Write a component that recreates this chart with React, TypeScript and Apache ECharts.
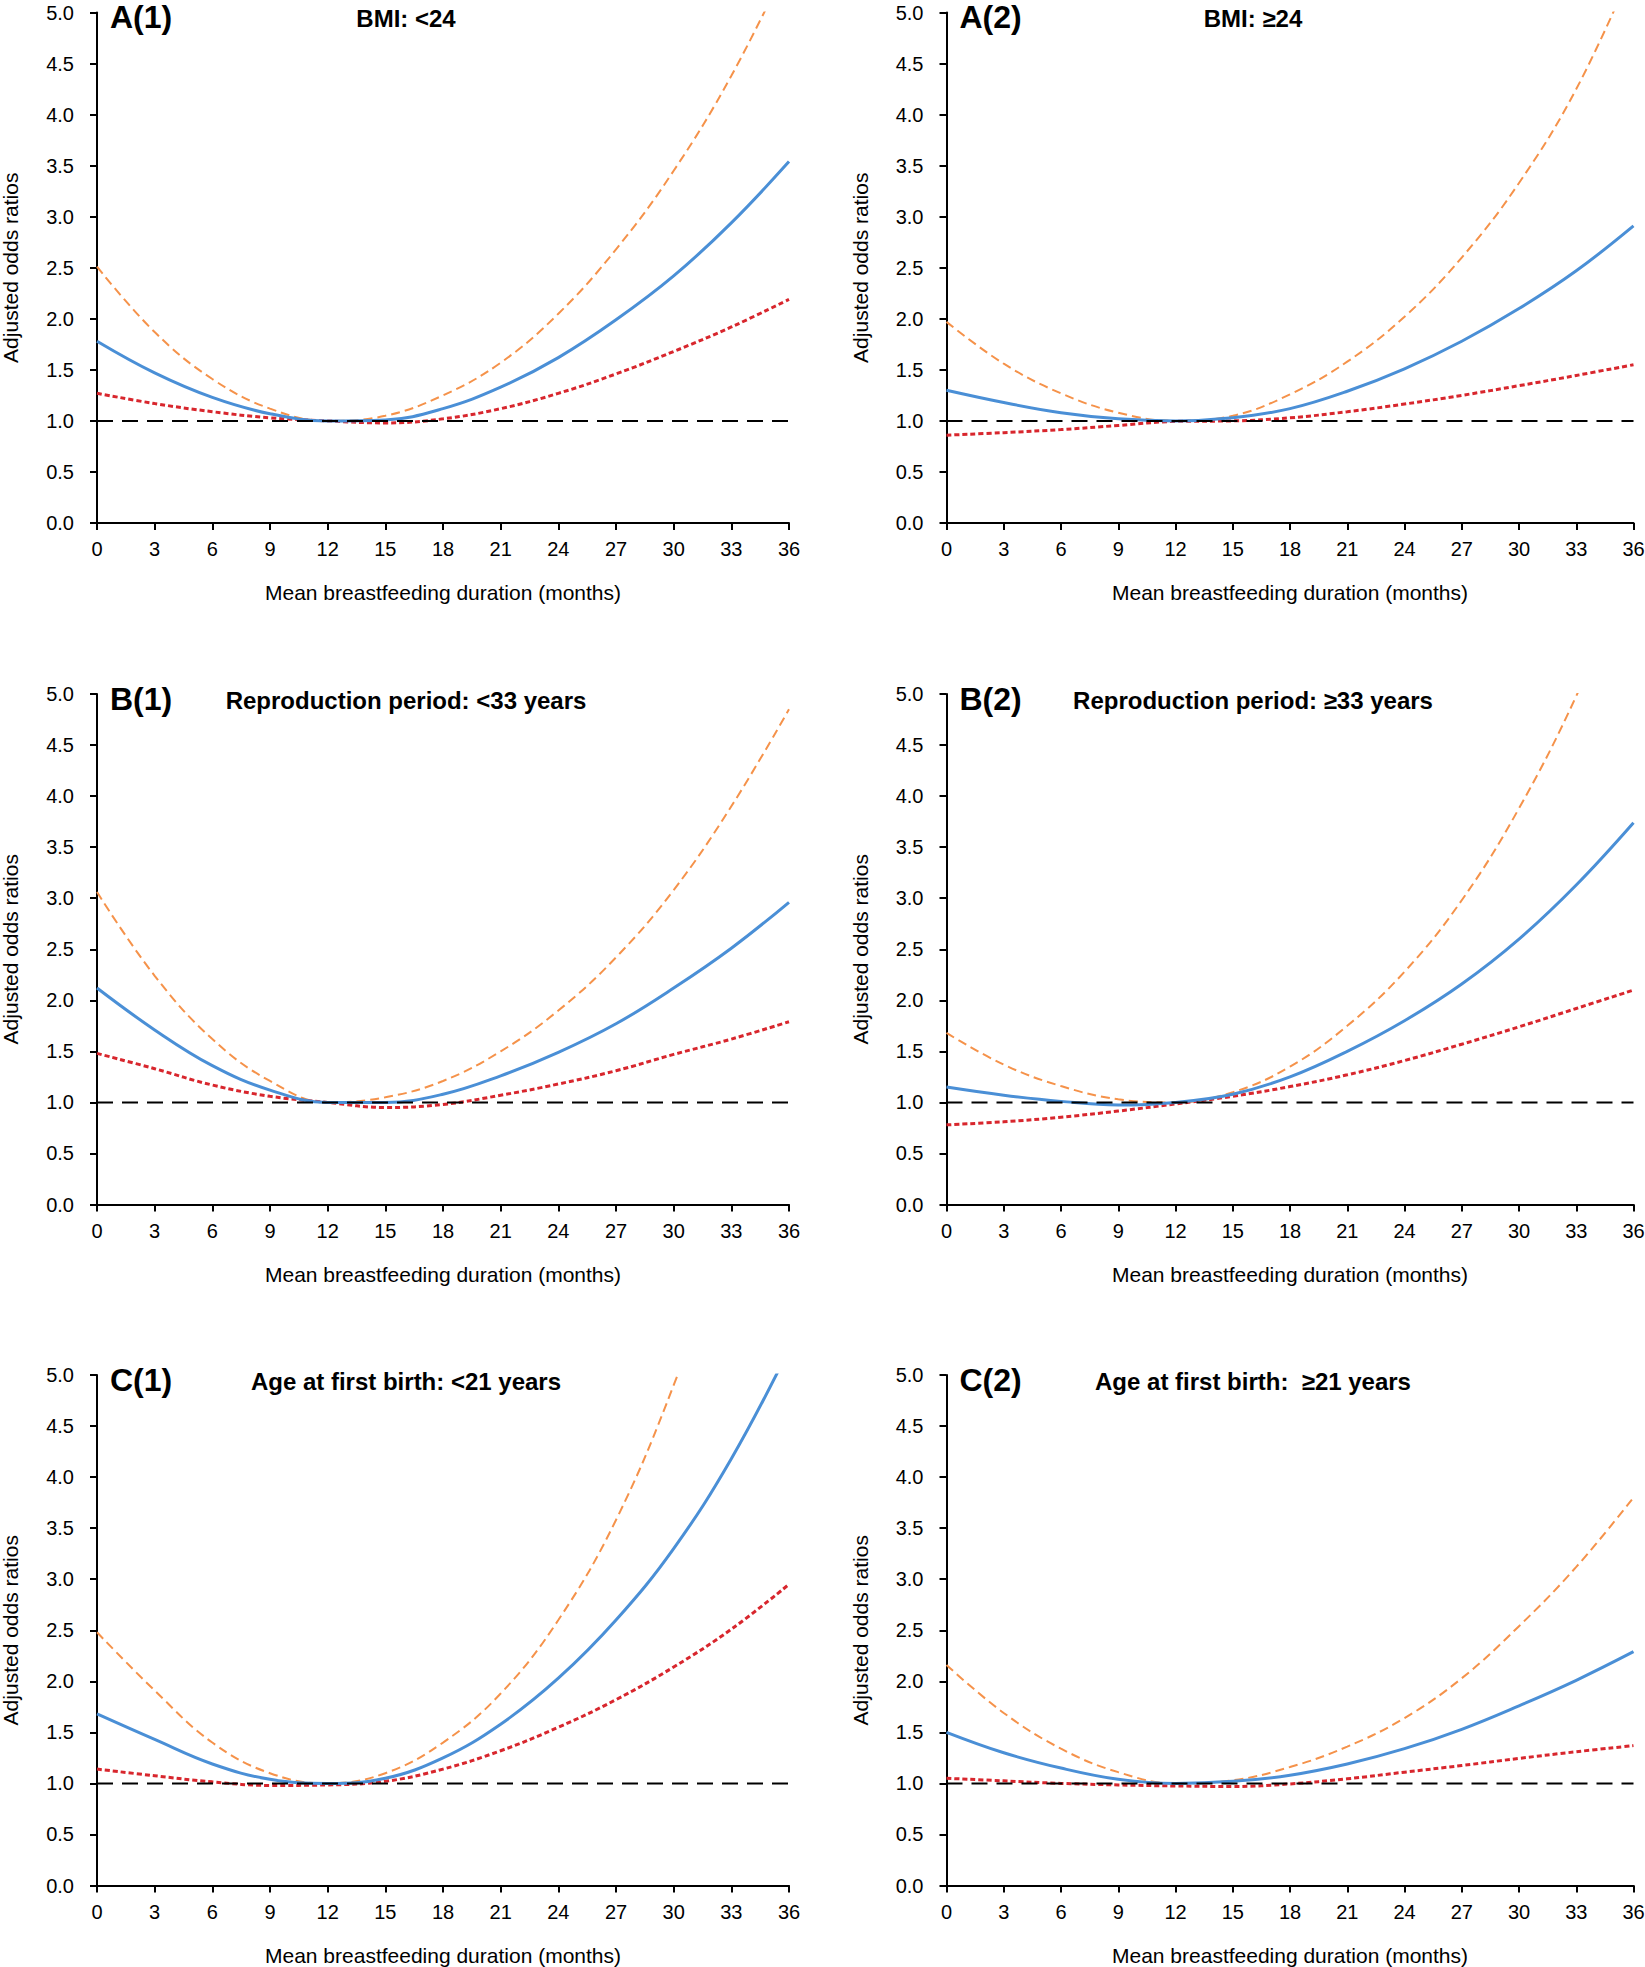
import React, { useEffect, useRef } from "react";
import * as echarts from "echarts";

// ---------------- data ----------------
const MONTHS = [0, 3, 6, 9, 12, 15, 18, 21, 24, 27, 30, 33, 36];
const REFERENCE_OR = 1.0;
const Y_MIN = 0;
const Y_MAX = 5;
const Y_STEP = 0.5;
const X_MIN = 0;
const X_MAX = 36;
const X_STEP = 3;

const A1_OR = [1.78, 1.47, 1.23, 1.07, 1.0, 1.01, 1.12, 1.33, 1.62, 1.99, 2.42, 2.94, 3.54];
const A1_UPPER = [2.51, 1.87, 1.41, 1.12, 1.0, 1.05, 1.25, 1.57, 2.05, 2.68, 3.45, 4.38, 5.5];
const A1_LOWER = [1.27, 1.17, 1.09, 1.03, 1.0, 0.98, 1.02, 1.12, 1.27, 1.46, 1.68, 1.92, 2.19];

const A2_OR = [1.3, 1.18, 1.08, 1.02, 1.0, 1.03, 1.12, 1.29, 1.51, 1.78, 2.1, 2.47, 2.91];
const A2_UPPER = [1.97, 1.56, 1.27, 1.08, 1.0, 1.05, 1.26, 1.58, 2.02, 2.6, 3.33, 4.25, 5.45];
const A2_LOWER = [0.86, 0.885, 0.915, 0.955, 0.995, 1.0, 1.03, 1.09, 1.165, 1.25, 1.345, 1.445, 1.55];

const B1_OR = [2.12, 1.71, 1.36, 1.12, 1.0, 1.0, 1.08, 1.26, 1.49, 1.77, 2.12, 2.51, 2.96];
const B1_UPPER = [3.06, 2.24, 1.62, 1.21, 1.0, 1.05, 1.21, 1.5, 1.9, 2.42, 3.08, 3.9, 4.85];
const B1_LOWER = [1.48, 1.33, 1.17, 1.06, 1.0, 0.95, 0.98, 1.07, 1.18, 1.31, 1.47, 1.62, 1.79];

const B2_OR = [1.15, 1.07, 1.01, 0.975, 1.0, 1.08, 1.25, 1.5, 1.8, 2.16, 2.6, 3.13, 3.74];
const B2_UPPER = [1.68, 1.37, 1.16, 1.03, 1.0, 1.1, 1.35, 1.75, 2.28, 2.98, 3.88, 4.98, 6.3];
const B2_LOWER = [0.78, 0.81, 0.855, 0.915, 0.985, 1.06, 1.155, 1.27, 1.41, 1.57, 1.74, 1.92, 2.1];

const C1_OR = [1.68, 1.43, 1.19, 1.04, 1.0, 1.05, 1.25, 1.58, 2.03, 2.6, 3.3, 4.18, 5.25];
const C1_UPPER = [2.48, 1.91, 1.4, 1.1, 1.0, 1.1, 1.4, 1.88, 2.6, 3.58, 4.9, 6.5, 8.4];
const C1_LOWER = [1.14, 1.075, 1.015, 0.98, 0.985, 1.02, 1.14, 1.32, 1.55, 1.82, 2.14, 2.51, 2.95];

const C2_OR = [1.5, 1.3, 1.15, 1.04, 1.0, 1.02, 1.08, 1.19, 1.34, 1.53, 1.76, 2.01, 2.29];
const C2_UPPER = [2.16, 1.69, 1.34, 1.11, 1.0, 1.03, 1.16, 1.36, 1.64, 2.03, 2.54, 3.12, 3.8];
const C2_LOWER = [1.05, 1.025, 1.0, 0.985, 0.975, 0.97, 0.995, 1.045, 1.11, 1.175, 1.245, 1.31, 1.37];

const PANEL_LABELS = ["A(1)", "A(2)", "B(1)", "B(2)", "C(1)", "C(2)"];
const PANEL_TITLES = [
  "BMI: <24",
  "BMI: ≥24",
  "Reproduction period: <33 years",
  "Reproduction period: ≥33 years",
  "Age at first birth: <21 years",
  "Age at first birth:  ≥21 years",
];
const X_AXIS_NAME = "Mean breastfeeding duration (months)";
const Y_AXIS_NAME = "Adjusted odds ratios";

const PANEL_DATA = [
  { or: A1_OR, upper: A1_UPPER, lower: A1_LOWER },
  { or: A2_OR, upper: A2_UPPER, lower: A2_LOWER },
  { or: B1_OR, upper: B1_UPPER, lower: B1_LOWER },
  { or: B2_OR, upper: B2_UPPER, lower: B2_LOWER },
  { or: C1_OR, upper: C1_UPPER, lower: C1_LOWER },
  { or: C2_OR, upper: C2_UPPER, lower: C2_LOWER },
];

// ---------------- layout / style ----------------
const W = 1645;
const H = 1967;
const COL_LEFT = [97, 946.5];
const COL_WIDTH = [692, 687];
const ROW_TOP = [12.5, 694, 1375];
const ROW_HEIGHT = 510.5;
const FONT = "'Liberation Sans', Arial, Helvetica, sans-serif";

const BLUE = "#4A8FD6";
const ORANGE = "#F5924A";
const RED = "#D8262D";

const pair = (vals: number[]) => MONTHS.map((m, i) => [m, vals[i]]);

export default function App() {
  const ref = useRef<HTMLDivElement>(null);

  useEffect(() => {
    if (!ref.current) return;
    const chart = echarts.init(ref.current, undefined, { renderer: "svg" });

    const grids: any[] = [];
    const xAxes: any[] = [];
    const yAxes: any[] = [];
    const series: any[] = [];
    const graphics: any[] = [];

    PANEL_DATA.forEach((p, i) => {
      const col = i % 2;
      const row = Math.floor(i / 2);
      const left = COL_LEFT[col];
      const width = COL_WIDTH[col];
      const top = ROW_TOP[row];

      grids.push({
        left,
        top,
        width,
        height: ROW_HEIGHT,
        containLabel: false,
        outerBoundsMode: "none",
      });

      xAxes.push({
        type: "value",
        gridIndex: i,
        min: X_MIN,
        max: X_MAX,
        interval: X_STEP,
        name: X_AXIS_NAME,
        nameLocation: "middle",
        nameGap: 59,
        nameTextStyle: { fontFamily: FONT, fontSize: 21, color: "#000" },
        axisLine: { show: true, onZero: false, lineStyle: { color: "#000", width: 2 } },
        axisTick: { show: true, inside: false, length: 7, lineStyle: { color: "#000", width: 2 } },
        axisLabel: { fontFamily: FONT, fontSize: 20, color: "#000", margin: 16 },
        splitLine: { show: false },
      });

      yAxes.push({
        type: "value",
        gridIndex: i,
        min: Y_MIN,
        max: Y_MAX,
        interval: Y_STEP,
        name: Y_AXIS_NAME,
        nameLocation: "middle",
        nameGap: 76,
        nameTextStyle: { fontFamily: FONT, fontSize: 21, color: "#000" },
        axisLine: { show: true, onZero: false, lineStyle: { color: "#000", width: 2 } },
        axisTick: { show: true, inside: false, length: 7, lineStyle: { color: "#000", width: 2 } },
        axisLabel: {
          fontFamily: FONT,
          fontSize: 20,
          color: "#000",
          margin: 23,
          formatter: (v: number) => v.toFixed(1),
        },
        splitLine: { show: false },
      });

      const common = {
        type: "line",
        xAxisIndex: i,
        yAxisIndex: i,
        showSymbol: false,
        symbol: "none",
        clip: true,
        silent: true,
      };

      series.push({
        ...common,
        name: "upper",
        smooth: 0.4,
        data: pair(p.upper),
        lineStyle: { color: ORANGE, width: 2, type: [9, 5] },
      });
      series.push({
        ...common,
        name: "lower",
        smooth: 0.4,
        data: pair(p.lower),
        lineStyle: { color: RED, width: 3, type: [5, 3] },
      });
      series.push({
        ...common,
        name: "or",
        smooth: 0.4,
        data: pair(p.or),
        lineStyle: { color: BLUE, width: 3, type: "solid" },
      });
      series.push({
        ...common,
        name: "ref",
        data: [
          [X_MIN, REFERENCE_OR],
          [X_MAX, REFERENCE_OR],
        ],
        lineStyle: { color: "#000", width: 2, type: [16, 9] },
      });

      graphics.push({
        type: "text",
        x: left + 13,
        y: top - 11.5,
        style: {
          text: PANEL_LABELS[i],
          fontFamily: FONT,
          fontWeight: "bold",
          fontSize: 32,
          fill: "#000",
          align: "left",
          verticalAlign: "top",
        },
      });
      graphics.push({
        type: "text",
        x: left + width / 2 - 37,
        y: top + 6,
        style: {
          text: PANEL_TITLES[i],
          fontFamily: FONT,
          fontWeight: "bold",
          fontSize: 24,
          fill: "#000",
          align: "center",
          verticalAlign: "middle",
        },
      });
    });

    chart.setOption({
      animation: false,
      backgroundColor: "#fff",
      grid: grids,
      xAxis: xAxes,
      yAxis: yAxes,
      series,
      graphic: graphics,
    });

    return () => {
      chart.dispose();
    };
  }, []);

  return (
    <div
      ref={ref}
      style={{ position: "absolute", left: 0, top: 0, width: W, height: H, background: "#fff" }}
    />
  );
}
